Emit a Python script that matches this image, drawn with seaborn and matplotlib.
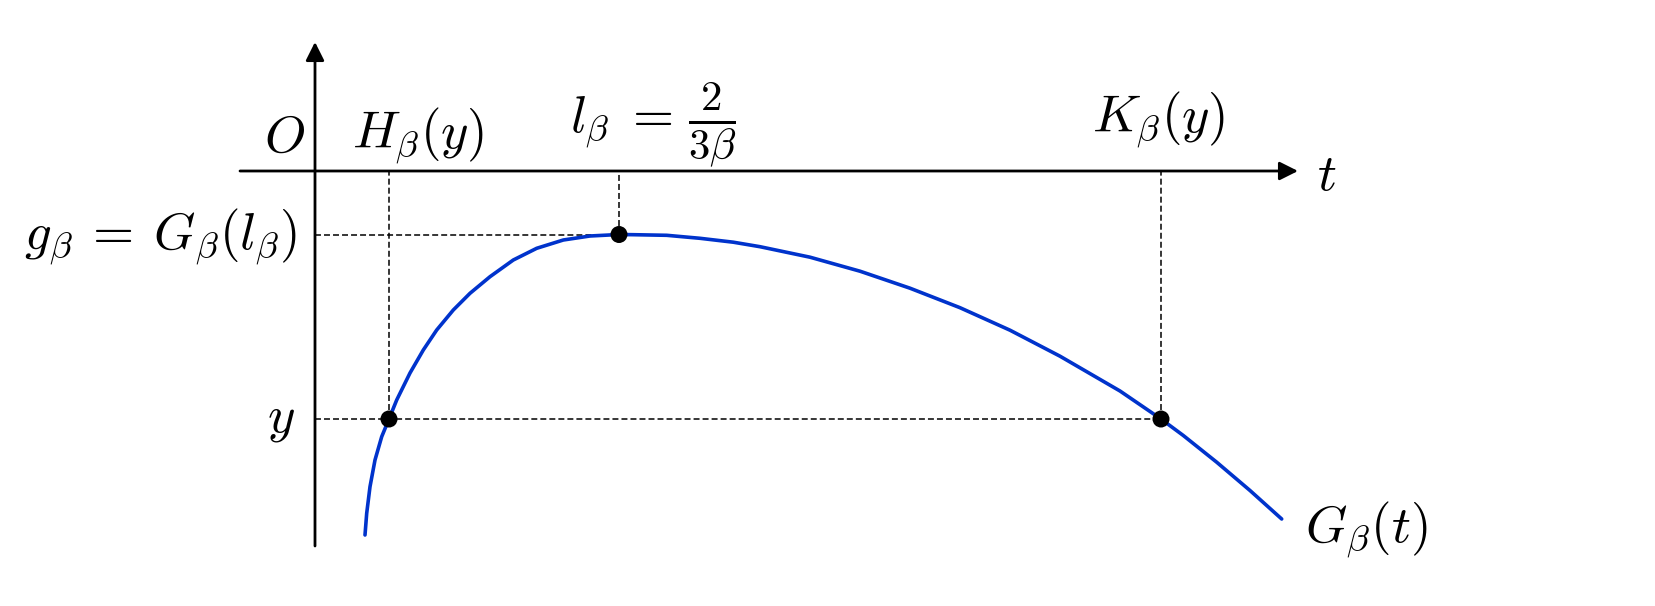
import numpy as np
import pandas as pd
import matplotlib
matplotlib.use("Agg")
import matplotlib.pyplot as plt
import seaborn as sns

# curve G_beta(t) (1 unit = 100 px, origin at O)
t_vals = [0.500, 0.517, 0.550, 0.600, 0.667, 0.740, 0.817, 0.950, 1.083, 1.217,
          1.383, 1.550, 1.750, 1.983, 2.217, 2.483, 2.750, 3.040, 3.183, 3.517,
          3.850, 4.183, 4.450, 4.950, 5.450, 5.950, 6.450, 6.950, 7.450, 8.050,
          8.460, 8.683, 9.017, 9.350, 9.667]
G_vals = [-3.640, -3.423, -3.157, -2.890, -2.657, -2.480, -2.290, -2.020, -1.790, -1.590,
          -1.390, -1.223, -1.057, -0.890, -0.773, -0.690, -0.650, -0.635, -0.637, -0.643,
          -0.673, -0.712, -0.757, -0.862, -1.002, -1.172, -1.367, -1.592, -1.852, -2.200,
          -2.480, -2.645, -2.912, -3.195, -3.480]

# marked points: H_beta(y), l_beta, K_beta(y)
key_t = [0.74, 3.04, 8.46]
key_G = [-2.48, -0.635, -2.48]

sns.set_theme(style="white")
plt.rcParams["mathtext.fontset"] = "cm"
plt.rcParams["font.family"] = ["DejaVu Serif"]
plt.rcParams["text.color"] = "black"

curve = pd.DataFrame({"t": t_vals, "G": G_vals})
pts = pd.DataFrame({"t": key_t, "G": key_G})

fig = plt.figure(figsize=(16.56, 6.06), dpi=100)
ax = fig.add_axes([0, 0, 1, 1])
ax.set_xlim(-3.15, 13.41)
ax.set_ylim(-4.35, 1.71)
ax.axis("off")

# axes with arrows
arr = dict(arrowstyle="-|>", lw=2.0, color="black", mutation_scale=28,
           shrinkA=0, shrinkB=0)
ax.annotate("", xy=(9.83, 0), xytext=(-0.75, 0), arrowprops=arr)
ax.annotate("", xy=(0, 1.29), xytext=(0, -3.75), arrowprops=arr)

# dashed guides
dash = dict(colors="black", linewidth=1.1, linestyles=[(0, (3.9, 2.0))])
ax.hlines([key_G[0], key_G[1]], 0, [key_t[2], key_t[1]], **dash)
ax.vlines(key_t, key_G, 0, **dash)

sns.lineplot(data=curve, x="t", y="G", ax=ax, color="#0033cc", linewidth=2.6,
             sort=False, legend=False)
sns.scatterplot(data=pts, x="t", y="G", ax=ax, color="black", s=150,
                edgecolor="none", zorder=5, legend=False)

fs = 38
ax.text(-0.31, 0.19, r"$O$", fontsize=fs, ha="center", va="baseline")
ax.text(0.37, 0.22, r"$H_\beta(y)$", fontsize=fs, ha="left", va="baseline")
ax.text(2.55, 0.38, r"$l_\beta\;=$", fontsize=fs, ha="left", va="baseline")
ax.text(3.73, 0.38, r"$\frac{2}{3\beta}$", fontsize=44, ha="left", va="baseline")
ax.text(7.77, 0.38, r"$K_\beta(y)$", fontsize=fs, ha="left", va="baseline")
ax.text(10.02, -0.19, r"$t$", fontsize=fs, ha="left", va="baseline")
ax.text(-0.18, -0.79, r"$g_\beta\:=\:G_\beta(l_\beta)$", fontsize=fs, ha="right", va="baseline")
ax.text(-0.20, -2.61, r"$y$", fontsize=fs, ha="right", va="baseline")
ax.text(9.90, -3.72, r"$G_\beta(t)$", fontsize=fs, ha="left", va="baseline")

fig.savefig("out.png", dpi=100, facecolor="white")
